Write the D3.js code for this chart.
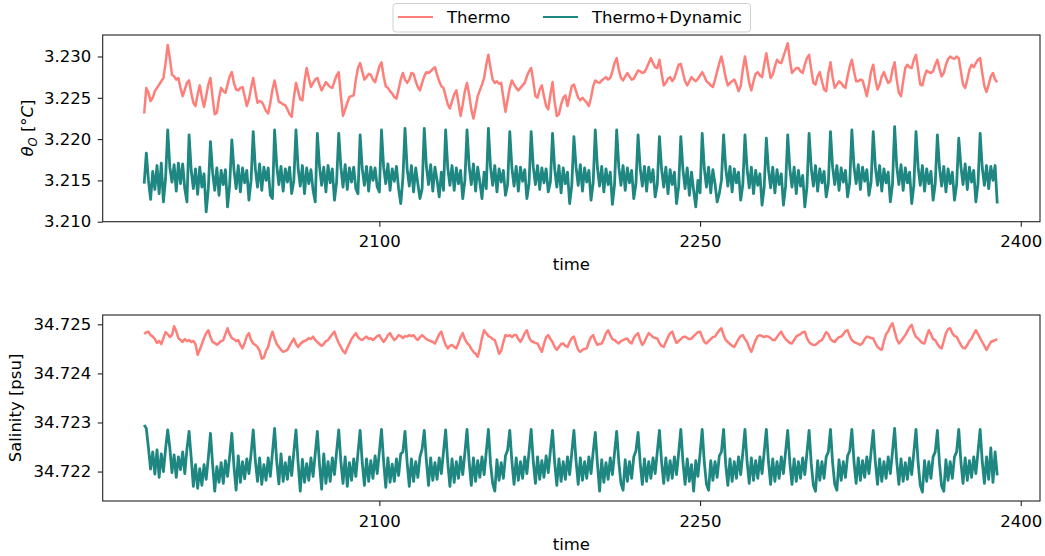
<!DOCTYPE html>
<html>
<head>
<meta charset="utf-8">
<script src="https://cdnjs.cloudflare.com/ajax/libs/d3/7.8.5/d3.min.js"></script>
<style>
  body { margin: 0; background: #fff; }
  svg text { font-family: "DejaVu Sans", sans-serif; fill: #000; }
</style>
</head>
<body>
<div id="chart"></div>
<script>
// yearly values, first year 1990
const startYear = 1990;

// potential temperature, Thermo run
const thermoTemp = [
3.2231,3.2262,3.2256,3.2246,3.2250,3.2258,3.2262,3.2266,3.2270,3.2274,
3.2292,3.2314,3.2298,3.2278,3.2276,3.2272,3.2274,3.2262,3.2252,3.2260,
3.2268,3.2271,3.2256,3.2244,3.2240,3.2254,3.2265,3.2250,3.2239,3.2252,
3.2266,3.2274,3.2250,3.2230,3.2232,3.2250,3.2262,3.2258,3.2256,3.2266,
3.2276,3.2281,3.2268,3.2260,3.2259,3.2262,3.2263,3.2252,3.2240,3.2248,
3.2262,3.2274,3.2258,3.2244,3.2246,3.2245,3.2240,3.2234,3.2231,3.2244,
3.2260,3.2271,3.2258,3.2245,3.2244,3.2242,3.2241,3.2236,3.2230,3.2227,
3.2250,3.2268,3.2258,3.2248,3.2247,3.2270,3.2286,3.2274,3.2263,3.2268,
3.2272,3.2274,3.2266,3.2259,3.2264,3.2269,3.2266,3.2263,3.2262,3.2270,
3.2277,3.2281,3.2252,3.2228,3.2236,3.2244,3.2251,3.2252,3.2253,3.2272,
3.2286,3.2292,3.2282,3.2272,3.2275,3.2279,3.2278,3.2272,3.2269,3.2278,
3.2288,3.2293,3.2276,3.2264,3.2262,3.2258,3.2255,3.2251,3.2249,3.2260,
3.2272,3.2280,3.2272,3.2268,3.2272,3.2280,3.2279,3.2270,3.2263,3.2259,
3.2268,3.2276,3.2281,3.2280,3.2282,3.2285,3.2287,3.2278,3.2270,3.2264,
3.2262,3.2252,3.2242,3.2237,3.2246,3.2254,3.2259,3.2244,3.2228,3.2242,
3.2258,3.2268,3.2254,3.2236,3.2225,3.2238,3.2252,3.2259,3.2266,3.2274,
3.2290,3.2302,3.2286,3.2272,3.2268,3.2270,3.2267,3.2268,3.2250,3.2233,
3.2248,3.2262,3.2271,3.2266,3.2262,3.2259,3.2262,3.2265,3.2268,3.2276,
3.2282,3.2286,3.2270,3.2252,3.2250,3.2260,3.2265,3.2252,3.2240,3.2236,
3.2254,3.2269,3.2245,3.2228,3.2230,3.2242,3.2250,3.2253,3.2240,3.2252,
3.2264,3.2266,3.2258,3.2250,3.2247,3.2250,3.2247,3.2244,3.2240,3.2250,
3.2264,3.2271,3.2269,3.2268,3.2271,3.2273,3.2275,3.2272,3.2274,3.2282,
3.2292,3.2298,3.2284,3.2274,3.2271,3.2276,3.2280,3.2276,3.2272,3.2273,
3.2278,3.2283,3.2282,3.2280,3.2281,3.2286,3.2292,3.2298,3.2292,3.2287,
3.2286,3.2296,3.2280,3.2265,3.2268,3.2273,3.2275,3.2270,3.2274,3.2282,
3.2290,3.2291,3.2280,3.2270,3.2265,3.2270,3.2275,3.2272,3.2270,3.2273,
3.2277,3.2281,3.2276,3.2270,3.2268,3.2265,3.2263,3.2272,3.2282,3.2292,
3.2300,3.2288,3.2274,3.2265,3.2268,3.2270,3.2272,3.2266,3.2258,3.2264,
3.2284,3.2300,3.2284,3.2268,3.2259,3.2270,3.2279,3.2281,3.2277,3.2275,
3.2290,3.2304,3.2288,3.2274,3.2278,3.2288,3.2296,3.2293,3.2292,3.2300,
3.2308,3.2316,3.2296,3.2280,3.2283,3.2286,3.2286,3.2282,3.2280,3.2290,
3.2298,3.2302,3.2284,3.2268,3.2266,3.2276,3.2281,3.2270,3.2260,3.2258,
3.2280,3.2293,3.2275,3.2262,3.2266,3.2270,3.2268,3.2264,3.2262,3.2276,
3.2288,3.2296,3.2282,3.2270,3.2270,3.2272,3.2271,3.2262,3.2252,3.2266,
3.2282,3.2290,3.2272,3.2260,3.2266,3.2276,3.2281,3.2274,3.2268,3.2270,
3.2284,3.2293,3.2272,3.2256,3.2252,3.2270,3.2286,3.2290,3.2287,3.2286,
3.2296,3.2302,3.2284,3.2266,3.2265,3.2276,3.2283,3.2281,3.2280,3.2282,
3.2290,3.2296,3.2285,3.2276,3.2280,3.2290,3.2297,3.2300,3.2298,3.2297,
3.2300,3.2298,3.2282,3.2266,3.2262,3.2272,3.2284,3.2290,3.2287,3.2292,
3.2296,3.2298,3.2280,3.2264,3.2257,3.2266,3.2276,3.2280,3.2272,3.2269];

// potential temperature, Thermo+Dynamic run
const dynTemp = [
3.2146,3.2183,3.2150,3.2127,3.2161,3.2139,3.2168,3.2134,3.2171,3.2124,
3.2152,3.2211,3.2166,3.2148,3.2169,3.2137,3.2171,3.2146,3.2170,3.2140,
3.2124,3.2205,3.2162,3.2140,3.2164,3.2133,3.2166,3.2142,3.2158,3.2112,
3.2140,3.2197,3.2160,3.2138,3.2165,3.2132,3.2162,3.2145,3.2163,3.2118,
3.2145,3.2199,3.2163,3.2140,3.2168,3.2136,3.2165,3.2147,3.2162,3.2126,
3.2150,3.2209,3.2164,3.2142,3.2170,3.2138,3.2166,3.2150,3.2165,3.2132,
3.2128,3.2211,3.2168,3.2145,3.2167,3.2137,3.2164,3.2148,3.2166,3.2134,
3.2150,3.2211,3.2165,3.2143,3.2168,3.2134,3.2165,3.2146,3.2163,3.2138,
3.2124,3.2207,3.2167,3.2144,3.2166,3.2136,3.2168,3.2147,3.2164,3.2126,
3.2148,3.2207,3.2166,3.2142,3.2169,3.2139,3.2165,3.2148,3.2166,3.2140,
3.2134,3.2205,3.2164,3.2144,3.2167,3.2137,3.2166,3.2150,3.2165,3.2142,
3.2136,3.2211,3.2166,3.2146,3.2170,3.2138,3.2164,3.2149,3.2167,3.2140,
3.2122,3.2152,3.2213,3.2164,3.2143,3.2168,3.2136,3.2165,3.2146,3.2128,
3.2140,3.2213,3.2167,3.2145,3.2169,3.2137,3.2166,3.2150,3.2130,3.2160,
3.2138,3.2211,3.2165,3.2144,3.2168,3.2138,3.2165,3.2146,3.2162,3.2128,
3.2150,3.2211,3.2167,3.2145,3.2170,3.2137,3.2166,3.2148,3.2128,3.2160,
3.2140,3.2213,3.2166,3.2144,3.2168,3.2136,3.2164,3.2148,3.2162,3.2132,
3.2145,3.2209,3.2165,3.2143,3.2167,3.2137,3.2166,3.2149,3.2163,3.2128,
3.2146,3.2209,3.2166,3.2145,3.2168,3.2139,3.2165,3.2147,3.2164,3.2136,
3.2148,3.2207,3.2164,3.2142,3.2168,3.2135,3.2165,3.2146,3.2160,3.2122,
3.2144,3.2203,3.2166,3.2144,3.2169,3.2137,3.2165,3.2148,3.2162,3.2126,
3.2147,3.2211,3.2165,3.2143,3.2167,3.2136,3.2164,3.2145,3.2160,3.2121,
3.2145,3.2211,3.2166,3.2144,3.2168,3.2138,3.2165,3.2147,3.2162,3.2128,
3.2146,3.2205,3.2165,3.2143,3.2167,3.2137,3.2166,3.2148,3.2163,3.2130,
3.2145,3.2203,3.2164,3.2142,3.2166,3.2134,3.2163,3.2145,3.2160,3.2122,
3.2143,3.2203,3.2163,3.2140,3.2165,3.2132,3.2160,3.2138,3.2118,3.2150,
3.2135,3.2207,3.2164,3.2142,3.2166,3.2135,3.2163,3.2146,3.2124,3.2134,
3.2150,3.2205,3.2165,3.2143,3.2167,3.2136,3.2164,3.2147,3.2160,3.2126,
3.2145,3.2205,3.2164,3.2141,3.2166,3.2134,3.2162,3.2144,3.2158,3.2120,
3.2142,3.2201,3.2163,3.2141,3.2166,3.2135,3.2163,3.2145,3.2158,3.2120,
3.2143,3.2205,3.2164,3.2142,3.2166,3.2134,3.2162,3.2143,3.2156,3.2118,
3.2142,3.2207,3.2165,3.2143,3.2168,3.2137,3.2164,3.2147,3.2161,3.2130,
3.2146,3.2209,3.2166,3.2145,3.2168,3.2138,3.2165,3.2148,3.2162,3.2130,
3.2147,3.2211,3.2167,3.2146,3.2169,3.2139,3.2166,3.2149,3.2163,3.2132,
3.2148,3.2209,3.2166,3.2144,3.2168,3.2137,3.2164,3.2147,3.2160,3.2124,
3.2145,3.2215,3.2167,3.2145,3.2169,3.2138,3.2165,3.2147,3.2160,3.2122,
3.2144,3.2209,3.2166,3.2144,3.2168,3.2137,3.2164,3.2146,3.2161,3.2126,
3.2146,3.2205,3.2165,3.2143,3.2167,3.2136,3.2164,3.2146,3.2160,3.2126,
3.2145,3.2201,3.2167,3.2145,3.2170,3.2139,3.2166,3.2148,3.2162,3.2124,
3.2146,3.2207,3.2165,3.2144,3.2168,3.2140,3.2167,3.2150,3.2168,3.2122];

// salinity, Thermo run
const thermoSalt = [
34.72480,34.72484,34.72485,34.72478,34.72475,34.72470,34.72462,34.72466,34.72460,34.72472,
34.72484,34.72480,34.72474,34.72478,34.72496,34.72486,34.72472,34.72468,34.72464,34.72470,
34.72466,34.72468,34.72464,34.72466,34.72460,34.72438,34.72448,34.72460,34.72472,34.72482,
34.72488,34.72474,34.72464,34.72462,34.72458,34.72462,34.72466,34.72468,34.72480,34.72492,
34.72480,34.72472,34.72470,34.72466,34.72468,34.72458,34.72451,34.72462,34.72476,34.72482,
34.72468,34.72461,34.72458,34.72454,34.72446,34.72430,34.72432,34.72446,34.72454,34.72472,
34.72485,34.72472,34.72460,34.72454,34.72448,34.72444,34.72446,34.72448,34.72456,34.72464,
34.72471,34.72460,34.72454,34.72460,34.72464,34.72466,34.72468,34.72472,34.72470,34.72475,
34.72468,34.72464,34.72460,34.72456,34.72460,34.72466,34.72468,34.72474,34.72480,34.72485,
34.72472,34.72462,34.72454,34.72446,34.72441,34.72452,34.72461,34.72470,34.72476,34.72482,
34.72474,34.72470,34.72468,34.72472,34.72475,34.72470,34.72472,34.72468,34.72472,34.72476,
34.72478,34.72470,34.72464,34.72470,34.72478,34.72482,34.72474,34.72468,34.72472,34.72478,
34.72476,34.72472,34.72476,34.72475,34.72478,34.72476,34.72478,34.72472,34.72468,34.72474,
34.72478,34.72474,34.72470,34.72468,34.72466,34.72464,34.72461,34.72470,34.72480,34.72485,
34.72470,34.72458,34.72451,34.72456,34.72458,34.72454,34.72451,34.72462,34.72474,34.72482,
34.72470,34.72462,34.72458,34.72450,34.72444,34.72440,34.72434,34.72450,34.72472,34.72488,
34.72482,34.72476,34.72474,34.72470,34.72468,34.72455,34.72440,34.72446,34.72464,34.72478,
34.72476,34.72478,34.72474,34.72478,34.72478,34.72470,34.72464,34.72472,34.72482,34.72488,
34.72474,34.72466,34.72464,34.72462,34.72461,34.72452,34.72444,34.72460,34.72474,34.72478,
34.72470,34.72464,34.72454,34.72448,34.72454,34.72460,34.72461,34.72456,34.72454,34.72464,
34.72472,34.72475,34.72460,34.72448,34.72444,34.72448,34.72450,34.72451,34.72464,34.72474,
34.72478,34.72466,34.72458,34.72460,34.72461,34.72470,34.72482,34.72488,34.72478,34.72470,
34.72468,34.72464,34.72461,34.72466,34.72468,34.72470,34.72471,34.72464,34.72461,34.72472,
34.72478,34.72482,34.72468,34.72458,34.72464,34.72474,34.72482,34.72478,34.72474,34.72472,
34.72471,34.72462,34.72456,34.72454,34.72464,34.72474,34.72482,34.72485,34.72472,34.72462,
34.72466,34.72470,34.72474,34.72475,34.72472,34.72470,34.72471,34.72476,34.72480,34.72484,
34.72485,34.72474,34.72464,34.72461,34.72466,34.72470,34.72474,34.72475,34.72482,34.72488,
34.72492,34.72478,34.72468,34.72464,34.72460,34.72456,34.72454,34.72462,34.72470,34.72476,
34.72478,34.72470,34.72464,34.72452,34.72444,34.72456,34.72468,34.72476,34.72478,34.72476,
34.72474,34.72476,34.72475,34.72472,34.72468,34.72468,34.72474,34.72480,34.72485,34.72476,
34.72470,34.72466,34.72462,34.72461,34.72468,34.72475,34.72478,34.72480,34.72484,34.72485,
34.72472,34.72464,34.72460,34.72458,34.72458,34.72462,34.72466,34.72468,34.72476,34.72484,
34.72480,34.72470,34.72466,34.72464,34.72470,34.72474,34.72475,34.72480,34.72486,34.72488,
34.72476,34.72468,34.72464,34.72462,34.72460,34.72458,34.72462,34.72470,34.72475,34.72474,
34.72472,34.72471,34.72462,34.72454,34.72450,34.72448,34.72466,34.72480,34.72486,34.72496,
34.72502,34.72486,34.72470,34.72461,34.72466,34.72472,34.72478,34.72486,34.72494,34.72499,
34.72484,34.72474,34.72471,34.72466,34.72462,34.72461,34.72476,34.72488,34.72480,34.72470,
34.72468,34.72460,34.72454,34.72451,34.72466,34.72482,34.72490,34.72492,34.72482,34.72476,
34.72475,34.72466,34.72458,34.72452,34.72451,34.72458,34.72466,34.72471,34.72480,34.72488,
34.72480,34.72472,34.72464,34.72456,34.72448,34.72456,34.72464,34.72466,34.72468,34.72470];

// salinity, Thermo+Dynamic run
const dynSalt = [
34.72295,34.72288,34.72248,34.72205,34.72240,34.72195,34.72244,34.72188,34.72236,34.72200,
34.72246,34.72285,34.72248,34.72198,34.72234,34.72188,34.72230,34.72204,34.72240,34.72196,
34.72246,34.72282,34.72228,34.72170,34.72214,34.72166,34.72206,34.72172,34.72214,34.72184,
34.72228,34.72278,34.72215,34.72160,34.72210,34.72178,34.72218,34.72176,34.72222,34.72190,
34.72232,34.72278,34.72210,34.72162,34.72232,34.72178,34.72220,34.72185,34.72226,34.72196,
34.72236,34.72285,34.72222,34.72180,34.72228,34.72174,34.72214,34.72182,34.72228,34.72190,
34.72238,34.72288,34.72220,34.72175,34.72236,34.72180,34.72218,34.72184,34.72230,34.72192,
34.72240,34.72285,34.72218,34.72160,34.72225,34.72178,34.72216,34.72182,34.72228,34.72190,
34.72236,34.72282,34.72215,34.72164,34.72236,34.72176,34.72220,34.72180,34.72228,34.72194,
34.72240,34.72285,34.72220,34.72176,34.72230,34.72170,34.72218,34.72182,34.72226,34.72190,
34.72238,34.72284,34.72218,34.72172,34.72226,34.72180,34.72222,34.72186,34.72232,34.72196,
34.72240,34.72286,34.72220,34.72168,34.72228,34.72178,34.72215,34.72180,34.72226,34.72192,
34.72236,34.72240,34.72282,34.72218,34.72170,34.72226,34.72180,34.72220,34.72188,34.72230,
34.72246,34.72284,34.72222,34.72172,34.72228,34.72182,34.72218,34.72184,34.72228,34.72196,
34.72240,34.72285,34.72218,34.72170,34.72226,34.72178,34.72220,34.72186,34.72230,34.72194,
34.72238,34.72286,34.72220,34.72172,34.72228,34.72180,34.72222,34.72188,34.72230,34.72194,
34.72240,34.72286,34.72216,34.72176,34.72160,34.72224,34.72182,34.72218,34.72186,34.72232,
34.72244,34.72284,34.72220,34.72174,34.72228,34.72182,34.72220,34.72186,34.72230,34.72196,
34.72240,34.72286,34.72220,34.72176,34.72230,34.72184,34.72222,34.72188,34.72232,34.72198,
34.72242,34.72284,34.72218,34.72172,34.72226,34.72180,34.72220,34.72184,34.72230,34.72194,
34.72238,34.72284,34.72222,34.72174,34.72228,34.72182,34.72220,34.72186,34.72230,34.72196,
34.72240,34.72280,34.72216,34.72160,34.72224,34.72178,34.72218,34.72184,34.72228,34.72194,
34.72238,34.72282,34.72220,34.72176,34.72162,34.72224,34.72180,34.72220,34.72186,34.72230,
34.72242,34.72280,34.72218,34.72174,34.72226,34.72180,34.72220,34.72186,34.72228,34.72196,
34.72240,34.72284,34.72220,34.72176,34.72228,34.72182,34.72222,34.72186,34.72230,34.72194,
34.72238,34.72286,34.72220,34.72174,34.72226,34.72180,34.72214,34.72160,34.72222,34.72190,
34.72236,34.72286,34.72218,34.72174,34.72162,34.72222,34.72182,34.72220,34.72188,34.72232,
34.72240,34.72286,34.72214,34.72172,34.72226,34.72180,34.72220,34.72186,34.72230,34.72194,
34.72238,34.72286,34.72220,34.72176,34.72228,34.72182,34.72222,34.72186,34.72230,34.72196,
34.72240,34.72286,34.72220,34.72174,34.72226,34.72180,34.72220,34.72186,34.72230,34.72196,
34.72240,34.72284,34.72218,34.72174,34.72226,34.72180,34.72220,34.72186,34.72228,34.72194,
34.72238,34.72284,34.72216,34.72172,34.72160,34.72222,34.72182,34.72220,34.72186,34.72230,
34.72240,34.72286,34.72218,34.72174,34.72162,34.72224,34.72182,34.72220,34.72188,34.72232,
34.72242,34.72286,34.72220,34.72176,34.72228,34.72182,34.72222,34.72188,34.72230,34.72196,
34.72240,34.72284,34.72218,34.72174,34.72226,34.72180,34.72220,34.72186,34.72230,34.72196,
34.72240,34.72288,34.72220,34.72174,34.72226,34.72180,34.72218,34.72184,34.72228,34.72194,
34.72240,34.72286,34.72218,34.72172,34.72158,34.72222,34.72180,34.72220,34.72186,34.72230,
34.72240,34.72284,34.72216,34.72170,34.72160,34.72224,34.72182,34.72220,34.72186,34.72230,
34.72240,34.72286,34.72220,34.72176,34.72228,34.72182,34.72222,34.72188,34.72230,34.72196,
34.72240,34.72286,34.72220,34.72176,34.72230,34.72184,34.72248,34.72178,34.72240,34.72192];

const xTicks = [2100, 2250, 2400];
const tempTicks = [3.210, 3.215, 3.220, 3.225, 3.230];
const saltTicks = [34.722, 34.723, 34.724, 34.725];
const seriesNames = ["Thermo", "Thermo+Dynamic"];
const colors = ["#fe7f7a", "#1f8781"];
const lineWidths = [2.5, 2.8];

const years = d3.range(startYear, startYear + thermoTemp.length);

const W = 1045, H = 556;
const fontSize = 16.5;

const svg = d3.select("#chart").append("svg")
    .attr("width", W).attr("height", H);

// x range is shared by both panels
const xscale = d3.scaleLinear().domain([1970.6, 2409.0]).range([102.7, 1040]);

function panel(id, top, bottom, ydomain, yticks, seriesList) {
  const yscale = d3.scaleLinear().domain(ydomain).range([bottom, top]);

  svg.append("clipPath").attr("id", id)
    .append("rect")
      .attr("x", xscale.range()[0]).attr("y", top)
      .attr("width", xscale.range()[1] - xscale.range()[0])
      .attr("height", bottom - top);

  const line = d3.line()
      .x((d, i) => xscale(years[i]))
      .y(d => yscale(d));

  const lines = svg.append("g").attr("clip-path", `url(#${id})`);
  seriesList.forEach(function(s, k) {
    lines.append("path")
        .datum(s)
        .attr("d", line)
        .attr("fill", "none")
        .attr("stroke", colors[k])
        .attr("stroke-width", lineWidths[k])
        .attr("stroke-linejoin", "round");
  });

  //axes
  const xaxis = d3.axisBottom(xscale).tickValues(xTicks).tickSize(5).tickPadding(9)
      .tickFormat(d3.format("d"));
  const yaxis = d3.axisLeft(yscale).tickValues(yticks).tickSize(5).tickPadding(6.5)
      .tickFormat(d3.format(".3f"));

  const gx = svg.append("g").attr("transform", `translate(0,${bottom})`).call(xaxis);
  const gy = svg.append("g").attr("transform", `translate(${xscale.range()[0]},0)`).call(yaxis);
  [gx, gy].forEach(function(g) {
    g.select(".domain").remove();
    g.selectAll("line").attr("stroke", "#222").attr("stroke-width", 1.1);
    g.selectAll("text").attr("font-size", fontSize).attr("font-family", "DejaVu Sans");
  });

  // frame
  svg.append("rect")
      .attr("x", xscale.range()[0]).attr("y", top)
      .attr("width", xscale.range()[1] - xscale.range()[0])
      .attr("height", bottom - top)
      .attr("fill", "none").attr("stroke", "#222").attr("stroke-width", 1.1);

  svg.append("text")
      .attr("x", (xscale.range()[0] + xscale.range()[1]) / 2)
      .attr("y", bottom + 48.5)
      .attr("text-anchor", "middle")
      .attr("font-size", fontSize)
      .text("time");

  return yscale;
}

panel("clipTop", 35, 221.7, [3.2100, 3.2326], tempTicks, [thermoTemp, dynTemp]);
panel("clipBot", 315, 501, [34.72140, 34.72519], saltTicks, [thermoSalt, dynSalt]);

// y labels
const yl1 = svg.append("text")
    .attr("transform", "translate(33,128) rotate(-90)")
    .attr("text-anchor", "middle")
    .attr("font-size", fontSize);
yl1.append("tspan").attr("font-style", "italic").text("θ");
yl1.append("tspan").attr("font-style", "italic").attr("font-size", fontSize * 0.7).attr("dy", 3.5).text("O");
yl1.append("tspan").attr("dy", -3.5).text(" [°");
yl1.append("tspan").attr("font-style", "italic").text("C");
yl1.append("tspan").text("]");

svg.append("text")
    .attr("transform", "translate(21,408) rotate(-90)")
    .attr("text-anchor", "middle")
    .attr("font-size", fontSize)
    .text("Salinity [psu]");

// legend
const lg = svg.append("g");
lg.append("rect")
    .attr("x", 393).attr("y", 3.5).attr("width", 357.5).attr("height", 28.5)
    .attr("rx", 3).attr("fill", "#fff").attr("fill-opacity", 0.8)
    .attr("stroke", "#d0d0d0").attr("stroke-width", 1);
const legendX = [398, 543];
seriesNames.forEach(function(name, k) {
  lg.append("line")
      .attr("x1", legendX[k]).attr("x2", legendX[k] + 35)
      .attr("y1", 17).attr("y2", 17)
      .attr("stroke", colors[k]).attr("stroke-width", 2.1);
  lg.append("text")
      .attr("x", legendX[k] + 49).attr("y", 23)
      .attr("font-size", fontSize)
      .text(name);
});
</script>
</body>
</html>
